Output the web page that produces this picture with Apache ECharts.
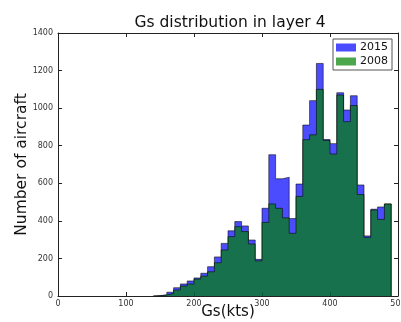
<!DOCTYPE html>
<html><head><meta charset="utf-8">
<script src="https://cdn.jsdelivr.net/npm/echarts@6/dist/echarts.min.js"></script>
<style>html,body{margin:0;padding:0;background:#fff}#c{width:401px;height:322px}</style>
</head><body><div id="c"></div>
<script>
// Histogram bin left edges (kts), bin width 10
const binEdges = [140,150,160,170,180,190,200,210,220,230,240,250,260,270,280,290,300,310,320,330,340,350,360,370,380,390,400,410,420,430,440,450,460,470,480];
const binWidth = 10;
const counts2015 = [2,6,20,44,64,80,96,121,156,208,280,347,396,373,298,195,467,752,624,632,412,596,910,1040,1238,833,811,1082,990,1066,591,320,462,474,490];
const counts2008 = [1,5,14,32,53,64,90,106,129,177,245,316,369,343,277,187,392,490,467,416,334,530,832,858,1100,828,756,1070,928,1014,540,312,458,408,490];
const xTicks = [0,100,200,300,400,500];
const yTicks = [0,200,400,600,800,1000,1200,1400];

function stepPoints(counts){
  const pts = [[binEdges[0], 0]];
  for (let i = 0; i < counts.length; i++) pts.push([binEdges[i], counts[i]]);
  pts.push([binEdges[binEdges.length-1] + binWidth, 0]);
  return pts;
}
const blue = 'rgba(0,0,255,0.7)';
const green = 'rgba(0,128,0,0.7)';
const chart = echarts.init(document.getElementById('c'), null, {renderer:'canvas'});
const axisLine = {show:true, onZero:false, lineStyle:{color:'#222', width:1}};
const tick = {show:true, inside:true, length:4, lineStyle:{color:'#222'}};
chart.setOption({
  animation:false,
  title:{text:'Gs distribution in layer 4', left:225, textAlign:'center', top:10,
    textStyle:{fontFamily:'DejaVu Sans', fontSize:15.5, fontWeight:'normal', color:'#111'}},
  grid:{left:58, right:3, top:33, bottom:26, containLabel:false, outerBoundsMode:'none'},
  legend:{right:9, top:39, orient:'vertical', itemGap:3, itemWidth:20, itemHeight:8,
    padding:[3,4,3,3], borderColor:'#555', borderWidth:1, backgroundColor:'#fff',
    textStyle:{fontFamily:'DejaVu Sans', fontSize:11, color:'#111', padding:[0,0,0,-1]},
    data:[{name:'2015', icon:'rect', itemStyle:{color:blue, borderWidth:0}},
          {name:'2008', icon:'rect', itemStyle:{color:green, borderWidth:0}}]},
  xAxis:[
    {type:'value', min:0, max:500, interval:100, name:'Gs(kts)', nameLocation:'middle', nameGap:9,
     nameMoveOverlap:false,
     nameTextStyle:{fontFamily:'DejaVu Sans', fontSize:15, color:'#111', lineHeight:15},
     axisLine:axisLine, axisTick:tick, splitLine:{show:false},
     axisLabel:{fontFamily:'DejaVu Sans', fontSize:8, color:'#333', margin:4,
       formatter:v=>xTicks.includes(v)?String(v):''}},
    {type:'value', min:0, max:500, interval:100, position:'top', axisLine:axisLine, axisTick:tick,
     axisLabel:{show:false}, splitLine:{show:false}}
  ],
  yAxis:[
    {type:'value', min:0, max:1400, interval:200, name:'Number of aircraft', nameLocation:'middle', nameGap:28,
     nameMoveOverlap:false,
     nameTextStyle:{fontFamily:'DejaVu Sans', fontSize:15.5, color:'#111', lineHeight:16},
     axisLine:axisLine, axisTick:tick, splitLine:{show:false},
     axisLabel:{fontFamily:'DejaVu Sans', fontSize:8, color:'#333', margin:5,
       formatter:v=>yTicks.includes(v)?String(v):''}},
    {type:'value', min:0, max:1400, interval:200, position:'right', axisLine:axisLine, axisTick:tick,
     axisLabel:{show:false}, splitLine:{show:false}}
  ],
  series:[
    {name:'2015', type:'line', step:'end', data:stepPoints(counts2015), symbol:'none',
     itemStyle:{color:blue}, lineStyle:{color:'rgba(0,0,0,0.7)', width:0.8},
     areaStyle:{color:blue, opacity:1, origin:'start'}, z:2},
    {name:'2008', type:'line', step:'end', data:stepPoints(counts2008), symbol:'none',
     itemStyle:{color:green}, lineStyle:{color:'rgba(0,0,0,0.7)', width:0.8},
     areaStyle:{color:green, opacity:1, origin:'start'}, z:3}
  ]
});
</script></body></html>
